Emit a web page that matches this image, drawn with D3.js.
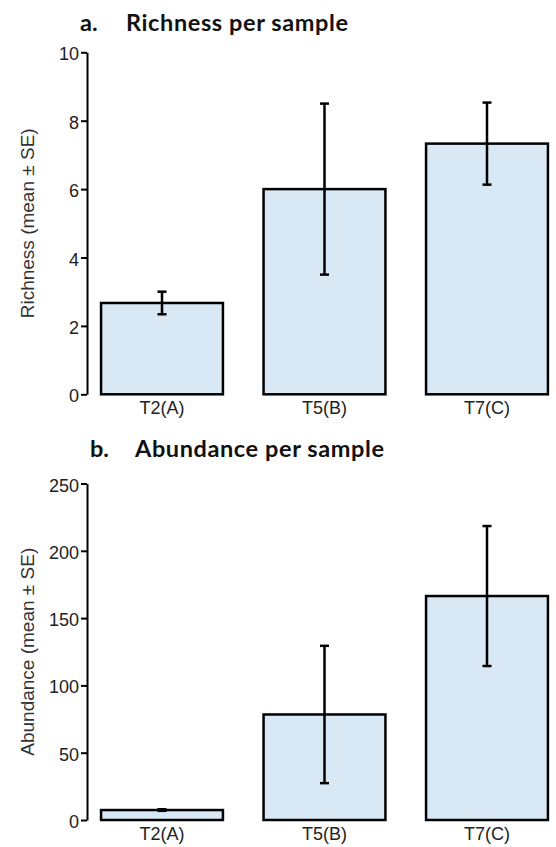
<!DOCTYPE html>
<html>
<head>
<meta charset="utf-8">
<script src="https://cdn.jsdelivr.net/npm/d3@7"></script>
<style>
  html, body { margin: 0; padding: 0; background: #fff; }
  svg { display: block; }
</style>
</head>
<body>
<svg id="chart" width="556" height="847"></svg>
<script>
// ---- data ----
const categories = ["T2(A)", "T5(B)", "T7(C)"];
const richnessMean = [2.67, 6.0, 7.33];
const richnessSE = [0.33, 2.5, 1.2];
const abundanceMean = [7.4, 78.4, 166.4];
const abundanceSE = [0.6, 51, 52];
const richnessTicks = [0, 2, 4, 6, 8, 10];
const abundanceTicks = [0, 50, 100, 150, 200, 250];

const svg = d3.select("#chart");
const barFill = "#d8e8f4";
const textColor = "#222";
const sansFont = "'Liberation Sans', Arimo, Arial, sans-serif";
const titleFont = "Lato, 'Open Sans', sans-serif";

function panel(opts) {
  const g = svg.append("g");
  const x = d3.scaleBand().domain(categories).range([87, 562])
    .paddingInner(0.25).paddingOuter(0.0865);
  const y = d3.scaleLinear().domain(opts.domain).range(opts.yRange);

  // title
  g.append("text").attr("x", opts.titleX1).attr("y", opts.titleY)
    .attr("font-family", titleFont).attr("font-weight", 700)
    .attr("font-size", 23.5).attr("fill", "#111").text(opts.letter);
  g.append("text").attr("x", opts.titleX2).attr("y", opts.titleY)
    .attr("font-family", titleFont).attr("font-weight", 700)
    .attr("font-size", 23.5).attr("letter-spacing", 0.6).attr("fill", "#111").text(opts.title);

  // bars
  const data = categories.map((c, i) => ({ c, m: opts.mean[i], se: opts.se[i] }));
  g.selectAll("rect.bar").data(data).join("rect").attr("class", "bar")
    .attr("x", d => x(d.c)).attr("width", x.bandwidth())
    .attr("y", d => y(d.m)).attr("height", d => y(0) - y(d.m))
    .attr("fill", barFill).attr("stroke", "#000").attr("stroke-width", 2.5);

  // error bars
  const eb = g.selectAll("g.err").data(data).join("g").attr("class", "err")
    .attr("stroke", "#000").attr("stroke-width", 2.5);
  eb.append("line")
    .attr("x1", d => x(d.c) + x.bandwidth() / 2).attr("x2", d => x(d.c) + x.bandwidth() / 2)
    .attr("y1", d => y(d.m - d.se)).attr("y2", d => y(d.m + d.se));
  eb.append("line")
    .attr("x1", d => x(d.c) + x.bandwidth() / 2 - 4.5).attr("x2", d => x(d.c) + x.bandwidth() / 2 + 4.5)
    .attr("y1", d => y(d.m + d.se)).attr("y2", d => y(d.m + d.se));
  eb.append("line")
    .attr("x1", d => x(d.c) + x.bandwidth() / 2 - 4.5).attr("x2", d => x(d.c) + x.bandwidth() / 2 + 4.5)
    .attr("y1", d => y(d.m - d.se)).attr("y2", d => y(d.m - d.se));

  // y axis
  const ax = g.append("g").attr("transform", "translate(87,0)")
    .call(d3.axisLeft(y).tickValues(opts.ticks).tickSize(6).tickSizeOuter(0).tickPadding(2));
  ax.attr("font-family", sansFont).attr("font-size", 18);
  ax.select(".domain").attr("stroke", "#000").attr("stroke-width", 2);
  ax.selectAll(".tick line").attr("stroke", "#000").attr("stroke-width", 2);
  ax.selectAll(".tick text").attr("fill", textColor).attr("dy", "0.42em");

  // x labels
  g.selectAll("text.xl").data(categories).join("text").attr("class", "xl")
    .attr("x", d => x(d) + x.bandwidth() / 2).attr("y", y(0) + 20)
    .attr("text-anchor", "middle")
    .attr("font-family", sansFont)
    .attr("font-size", 18).attr("fill", textColor).text(d => d);

  // y label
  const cy = (opts.yRange[0] + opts.yRange[1]) / 2;
  g.append("text").attr("transform", `translate(34,${cy}) rotate(-90)`)
    .attr("text-anchor", "middle")
    .attr("font-family", sansFont)
    .attr("font-size", 19).attr("fill", "#333").text(opts.ylabel);
}

panel({
  letter: "a.", title: "Richness per sample", titleX1: 80, titleX2: 126, titleY: 31,
  domain: [0, 10], yRange: [394.3, 52.3], ticks: richnessTicks,
  mean: richnessMean, se: richnessSE, ylabel: "Richness (mean \u00b1 SE)"
});
panel({
  letter: "b.", title: "Abundance per sample", titleX1: 90, titleX2: 135, titleY: 457,
  domain: [0, 250], yRange: [820, 483.5], ticks: abundanceTicks,
  mean: abundanceMean, se: abundanceSE, ylabel: "Abundance (mean \u00b1 SE)"
});
</script>
</body>
</html>
